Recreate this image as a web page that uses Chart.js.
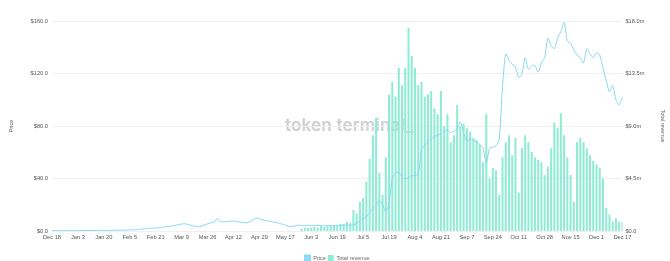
<!DOCTYPE html>
<html>
<head>
<meta charset="utf-8">
<script src="https://cdn.jsdelivr.net/npm/chart.js@4"></script>
<style>
  body { margin: 0; background: #fff; }
  #wrap { position: relative; width: 670px; height: 261px; }
  #mark {
    position: absolute; left: 285px; top: 115px;
    font-family: Inter, "Noto Sans", sans-serif; font-weight: 600; font-size: 17px;
    color: #d0d0d0; letter-spacing: 0.2px; z-index: 0;
  }
  canvas { position: relative; z-index: 1; }
</style>
</head>
<body>
<div id="wrap">
  <div id="mark">token terminal_</div>
  <canvas id="chart" width="670" height="261"></canvas>
</div>
<script>
// Tick labels shown every 8 points along the x axis
const tickLabels = ['Dec 18', 'Jan 3', 'Jan 20', 'Feb 5', 'Feb 21', 'Mar 9', 'Mar 26', 'Apr 12',
    'Apr 29', 'May 17', 'Jun 3', 'Jun 19', 'Jul 5', 'Jul 19', 'Aug 4', 'Aug 21', 'Sep 7',
    'Sep 24', 'Oct 11', 'Oct 28', 'Nov 15', 'Dec 1', 'Dec 17'];

// Price in $ (left axis)
const priceData = [
    0.3, 0.3, 0.3, 0.3, 0.3, 0.3, 0.3, 0.3, 0.3, 0.3,
    0.4, 0.4, 0.4, 0.4, 0.4, 0.5, 0.5, 0.5, 0.5, 0.6,
    0.6, 0.6, 0.7, 0.7, 0.8, 0.9, 1.0, 1.2, 1.5, 1.8,
    2.0, 2.2, 2.3, 2.5, 2.8, 3.2, 3.5, 3.8, 4.3, 4.8,
    5.3, 5.5, 5.0, 4.2, 3.6, 3.2, 3.5, 4.5, 5.5, 6.2,
    7.0, 9.5, 7.2, 7.0, 7.2, 7.4, 7.6, 7.1, 6.8, 6.5,
    6.2, 7.0, 8.5, 10.0, 9.2, 8.6, 8.0, 7.5, 7.0, 6.6,
    6.0, 5.2, 4.5, 3.5, 3.4, 3.8, 4.5, 4.3, 4.2, 4.0,
    4.1, 4.0, 4.2, 3.9, 4.0, 4.1, 4.0, 4.2, 4.0, 4.3,
    4.4, 4.5, 4.6, 4.5, 6.0, 8.0, 9.5, 11.0, 14.0, 17.0,
    20.0, 23.0, 20.0, 14.5, 22.0, 40.0, 44.0, 45.0, 41.0, 40.0,
    40.5, 42.0, 42.5, 43.0, 62.0, 65.0, 68.0, 70.0, 72.0, 73.0,
    74.0, 76.0, 77.0, 75.0, 76.0, 78.0, 83.0, 75.0, 68.0, 70.0,
    69.0, 68.0, 66.0, 63.0, 52.0, 63.0, 64.0, 65.0, 70.0, 110.0,
    135.0, 130.0, 127.0, 125.0, 117.0, 120.0, 132.0, 123.0, 126.0, 126.0,
    121.0, 128.0, 132.0, 147.0, 141.0, 139.0, 147.0, 152.0, 159.0, 145.0,
    143.0, 138.0, 134.0, 132.0, 128.0, 139.0, 135.0, 132.0, 136.0, 134.0,
    124.0, 115.0, 106.0, 111.0, 100.0, 96.0, 102.0
];

// Total revenue in $m (right axis)
const revenueData = [
    0, 0, 0, 0, 0, 0, 0, 0, 0, 0,
    0, 0, 0, 0, 0, 0, 0, 0, 0, 0,
    0, 0, 0, 0, 0, 0, 0, 0, 0, 0,
    0, 0, 0, 0, 0, 0, 0, 0, 0, 0,
    0, 0, 0, 0, 0, 0, 0, 0, 0, 0,
    0, 0, 0, 0, 0, 0, 0, 0, 0, 0,
    0, 0, 0, 0, 0, 0, 0, 0, 0, 0,
    0, 0, 0, 0, 0, 0, 0, 0.2, 0.3, 0.25,
    0.3, 0.35, 0.3, 0.4, 0.35, 0.4, 0.5, 0.45, 0.5, 0.6,
    0.6, 0.8, 0.7, 1.8, 1.5, 2.5, 2.8, 4.2, 6.2, 8.2,
    9.7, 5.0, 3.1, 6.3, 11.7, 12.8, 11.5, 14.0, 12.5, 14.0,
    17.4, 15.0, 14.0, 12.5, 12.8, 11.5, 11.7, 12.0, 10.5, 10.0,
    12.0, 9.0, 10.0, 7.6, 8.2, 10.8, 9.0, 9.2, 8.8, 8.5,
    8.0, 7.8, 7.4, 5.9, 10.0, 4.5, 5.4, 5.2, 3.1, 6.3,
    7.6, 8.2, 6.5, 8.0, 3.3, 7.1, 8.2, 7.6, 6.8, 6.3,
    6.1, 5.9, 4.8, 5.5, 7.1, 9.3, 8.8, 10.1, 8.2, 6.3,
    4.8, 2.5, 7.6, 8.0, 7.6, 7.1, 6.5, 6.0, 5.7, 5.4,
    4.5, 2.0, 1.4, 0.8, 1.1, 0.8, 0.8
];

const labels = priceData.map((_, i) => i % 8 === 0 ? tickLabels[i / 8] : '');

const tickFont = { family: 'Helvetica, Arial, "Liberation Sans", sans-serif', size: 5.7 };
const tickColor = '#555';

new Chart(document.getElementById('chart'), {
    type: 'bar',
    data: {
        labels: labels,
        datasets: [
            {
                type: 'line',
                label: 'Price',
                data: priceData,
                borderColor: '#86d8f3',
                backgroundColor: '#8fd9f5',
                borderWidth: 1,
                pointRadius: 0,
                tension: 0.25,
                yAxisID: 'y'
            },
            {
                type: 'bar',
                label: 'Total revenue',
                data: revenueData,
                backgroundColor: '#8eebd4',
                borderWidth: 0,
                barPercentage: 0.62,
                categoryPercentage: 1,
                yAxisID: 'y1'
            }
        ]
    },
    options: {
        responsive: false,
        animation: false,
        layout: { padding: { left: 4, right: 0, top: 21, bottom: -10 } },
        scales: {
            x: {
                offset: false,
                grid: { display: false, drawTicks: false },
                border: { display: false },
                afterFit: scale => { scale.height = 22; },
                ticks: {
                    autoSkip: false,
                    maxRotation: 0,
                    padding: 3,
                    font: tickFont,
                    color: tickColor,
                    callback: (v, i) => labels[i] === '' ? null : labels[i]
                }
            },
            y: {
                position: 'left',
                min: 0,
                max: 160,
                grid: { color: '#f0f0f0', drawTicks: false },
                border: { display: false },
                title: { display: true, text: 'Price', font: { size: 5.5 }, color: '#666', padding: { top: 4, bottom: 12 } },
                ticks: {
                    stepSize: 40,
                    padding: 4,
                    font: tickFont,
                    color: tickColor,
                    callback: v => '$' + v.toFixed(1)
                }
            },
            y1: {
                position: 'right',
                min: 0,
                max: 18,
                grid: { display: false, drawTicks: false },
                border: { display: false },
                title: { display: true, text: 'Total revenue', font: { size: 5.5 }, color: '#666', padding: { top: 4, bottom: 12 } },
                ticks: {
                    stepSize: 4.5,
                    padding: 3,
                    font: tickFont,
                    color: tickColor,
                    callback: v => v === 0 ? '$0.0' : '$' + v.toFixed(1) + 'm'
                }
            }
        },
        plugins: {
            legend: {
                position: 'bottom',
                labels: {
                    boxWidth: 6,
                    boxHeight: 6,
                    padding: 2,
                    font: { size: 5.5 },
                    color: '#666'
                }
            },
            tooltip: { enabled: false }
        }
    }
});
</script>
</body>
</html>
